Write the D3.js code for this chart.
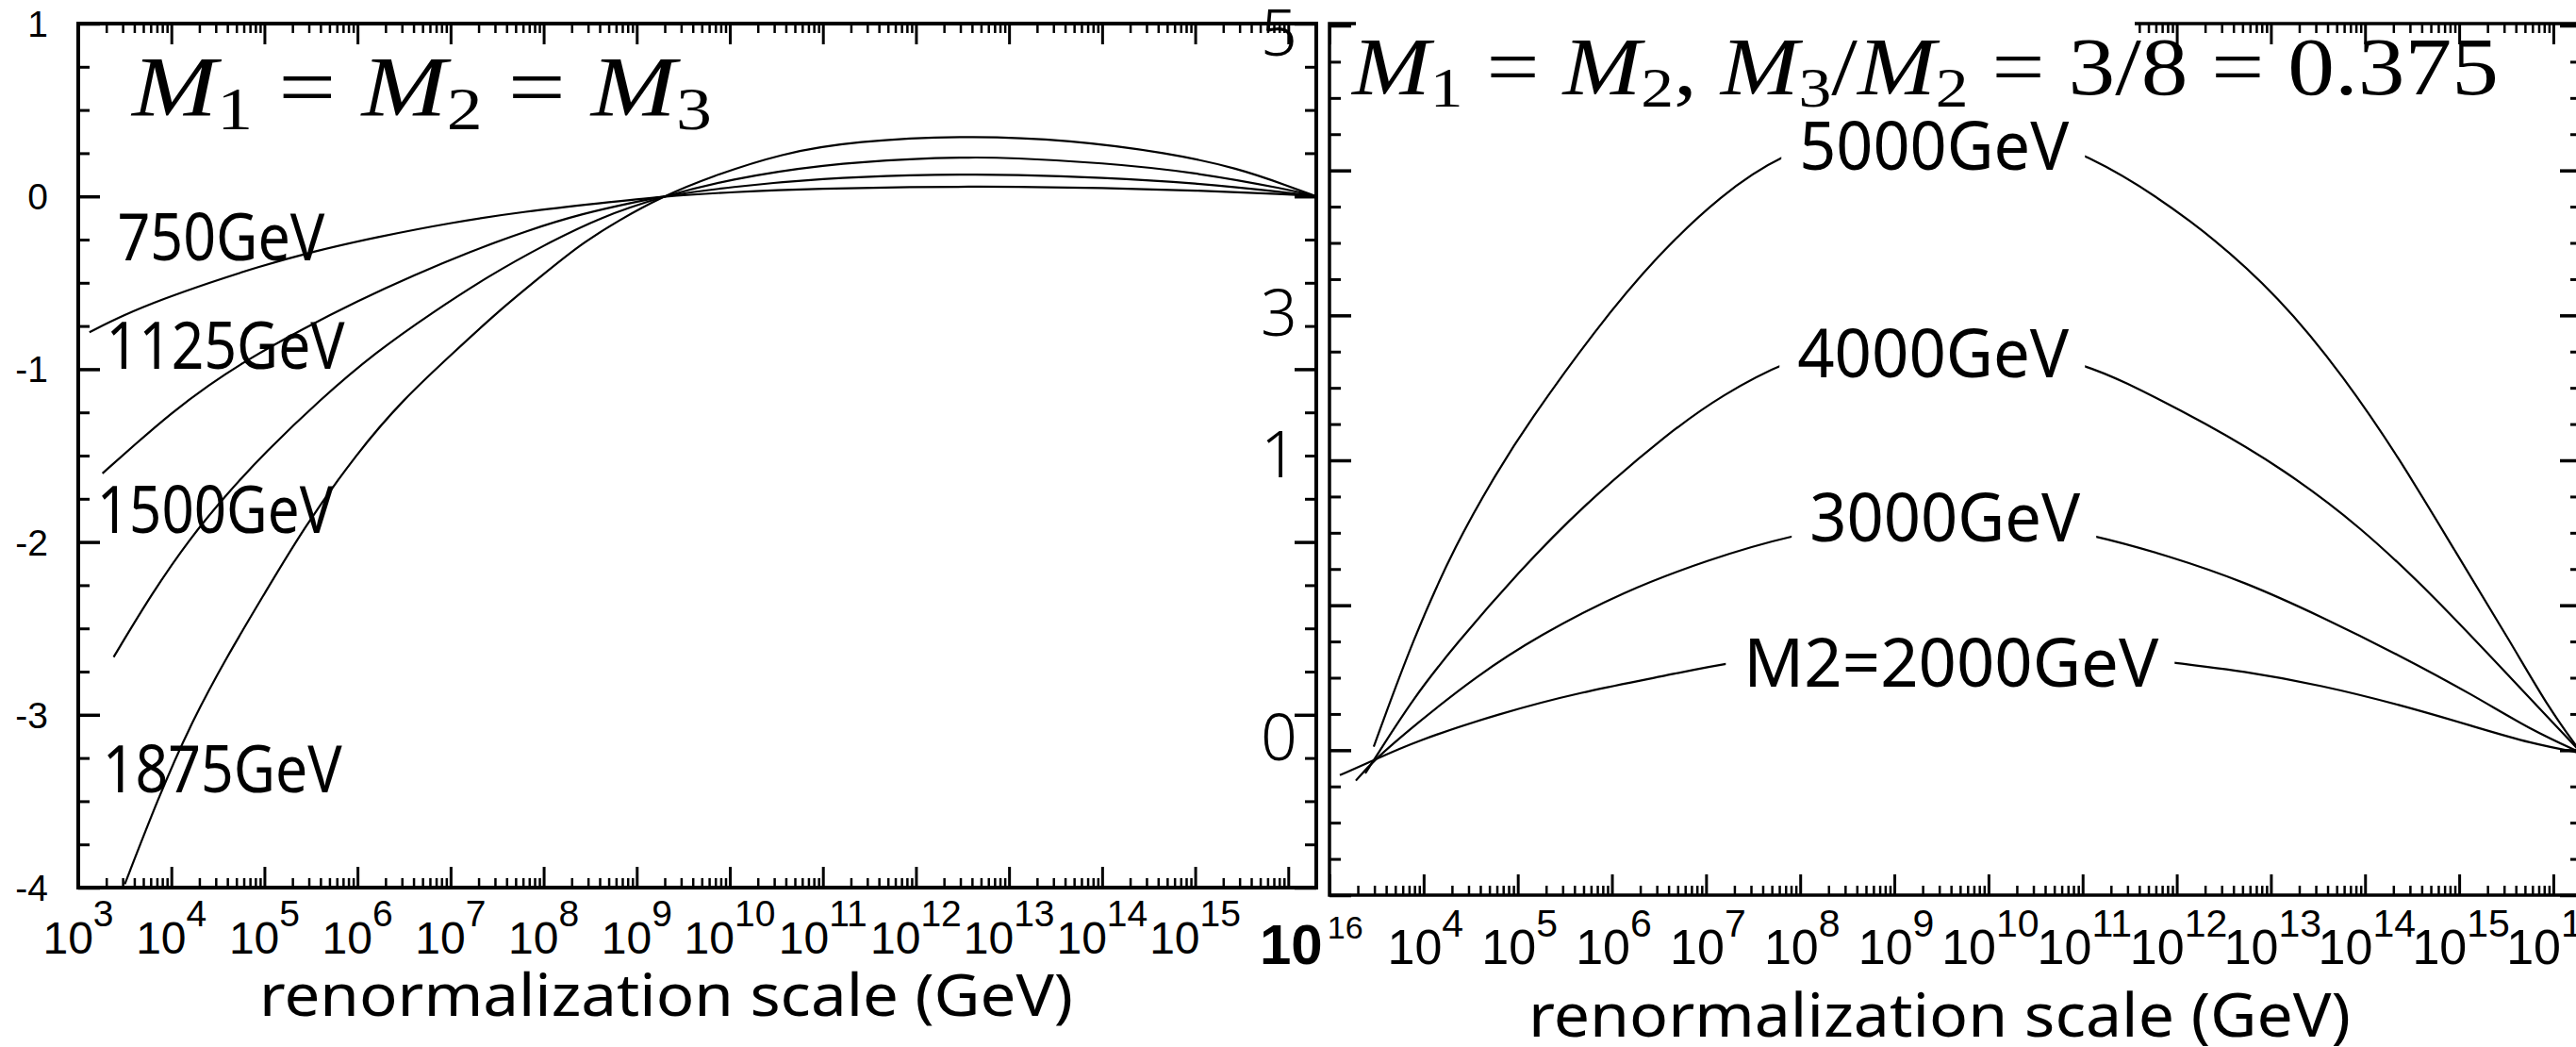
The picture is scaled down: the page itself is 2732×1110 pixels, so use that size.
<!DOCTYPE html>
<html>
<head>
<meta charset="utf-8">
<script src="https://cdn.jsdelivr.net/npm/d3@7"></script>
<style>
  html, body { margin: 0; padding: 0; background: #fff; }
  svg { display: block; }
  text { white-space: pre; }
</style>
</head>
<body>
<script>
// ---- data: [log10(Q / GeV), value] ----

// left panel, M1 = M2 = M3
var labelsL = ["750GeV", "1125GeV", "1500GeV", "1875GeV"];
var curve750 = [[3.12,-0.786],[3.48,-0.688],[3.92,-0.592],[4.40,-0.501],[4.92,-0.410],[5.52,-0.319],[6.20,-0.236],[7.01,-0.151],[7.81,-0.086],[8.61,-0.039],[9.28,0],[10,0.025],[11,0.046],[12,0.055],[12.6,0.056],[13,0.056],[14,0.049],[15,0.035],[16,0.012],[16.3,0]];
var curve1125 = [[3.26,-1.603],[3.60,-1.440],[4.00,-1.253],[4.40,-1.092],[4.80,-0.950],[5.40,-0.770],[6.00,-0.605],[6.61,-0.455],[7.21,-0.32],[7.81,-0.20],[8.41,-0.10],[9.01,-0.03],[9.28,0],[10,0.055],[11,0.105],[12,0.124],[12.6,0.127],[13,0.126],[14,0.11],[15,0.078],[16,0.022],[16.3,0]];
var curve1500 = [[3.38,-2.666],[3.80,-2.29],[4.20,-1.979],[4.60,-1.72],[5.00,-1.486],[5.60,-1.175],[6.20,-0.90],[6.81,-0.67],[7.41,-0.46],[8.01,-0.28],[8.61,-0.12],[9.28,0],[10,0.10],[11,0.185],[12,0.22],[12.6,0.226],[13,0.224],[14,0.195],[15,0.14],[16,0.04],[16.3,0]];
var curve1875 = [[3.50,-3.98],[3.86,-3.48],[4.2,-3.06],[4.6,-2.66],[5.0,-2.30],[5.42,-1.92],[6.0,-1.48],[6.5,-1.17],[7.0,-0.92],[7.5,-0.67],[8.0,-0.45],[8.39,-0.28],[8.8,-0.14],[9.28,0],[9.79,0.113],[10.56,0.25],[11.34,0.32],[12.58,0.353],[13.66,0.326],[14.7,0.253],[15.47,0.162],[16,0.06],[16.3,0]];

// right panel, M1 = M2, M3/M2 = 0.375
var labelsR = ["M2=2000GeV", "3000GeV", "4000GeV", "5000GeV"];
var curve2000 = [[3.11,-0.172],[3.47,-0.07],[3.89,0.056],[4.79,0.251],[5.68,0.403],[6.57,0.512],[7.24,0.61],[8.5,0.70],[9.5,0.73],[10.5,0.71],[11.86,0.614],[12.73,0.544],[13.54,0.447],[14.35,0.317],[15.15,0.165],[15.76,0.046],[16.3,-0.02]];
var curve3000 = [[3.28,-0.21],[3.47,-0.07],[3.89,0.165],[4.56,0.512],[5.23,0.794],[6.13,1.097],[7.02,1.314],[7.92,1.488],[8.8,1.58],[9.5,1.61],[10.3,1.58],[11.10,1.488],[11.92,1.34],[12.73,1.16],[13.54,0.92],[14.35,0.66],[15.15,0.38],[15.76,0.14],[16.3,-0.02]];
var curve4000 = [[3.38,-0.16],[3.47,-0.07],[3.89,0.36],[4.34,0.73],[5.01,1.23],[5.68,1.68],[6.62,2.20],[7.17,2.45],[7.86,2.69],[8.6,2.83],[9.4,2.87],[10.2,2.82],[11.08,2.64],[11.36,2.57],[12.33,2.25],[13.13,1.94],[13.94,1.55],[14.75,1.05],[15.56,0.49],[16.3,-0.02]];
var curve5000 = [[3.47,0.024],[3.89,0.772],[4.34,1.423],[4.79,1.93],[5.10,2.247],[5.82,2.90],[6.49,3.42],[7.16,3.83],[7.79,4.11],[8.6,4.28],[9.4,4.33],[10.2,4.28],[11.01,4.14],[12.18,3.66],[13.12,3.11],[13.78,2.57],[14.35,2.03],[14.95,1.38],[15.56,0.73],[15.96,0.28],[16.3,-0.02]];

// axes
var xDomain = [1e3, 2e16];
var yDomainL = [-4, 1];
var yDomainR = [-1, 5];
var xLabelExpL = [3, 4, 5, 6, 7, 8, 9, 10, 11, 12, 13, 14, 15];
var xLabelExpR = [4, 5, 6, 7, 8, 9, 10, 11, 12, 13, 14, 15, 16];
var yTicksL = [-4, -3, -2, -1, 0, 1];
var yTickTextR = ["5", "3", "1", "0"];
var yTickAtR = [4.95, 3.02, 2.04, 0.09];
var xTitle = "renormalization scale (GeV)";

// ---- drawing ----
var width = 2732, height = 1110;
var sansFont = "'Noto Sans', 'Open Sans', sans-serif";
var helvFont = "'Liberation Sans', Arial, sans-serif";
var serifFont = "'Liberation Serif', 'DejaVu Serif', serif";

var svg = d3.select("body").append("svg")
    .attr("width", width)
    .attr("height", height)
    .style("background", "#fff");

var boxL = {left: 83, right: 1396, top: 25, bottom: 941};
var boxR = {left: 1410, right: 2738, top: 25, bottom: 949};

var xL = d3.scaleLog().domain(xDomain).range([boxL.left, boxL.right]);
var yL = d3.scaleLinear().domain(yDomainL).range([boxL.bottom, boxL.top]);
var xR = d3.scaleLog().domain(xDomain).range([boxR.left, boxR.right]);
var yR = d3.scaleLinear().domain(yDomainR).range([boxR.bottom, 27]);

//decade and 2..9 minor ticks
var decades = d3.range(3, 17).map(function(e) {return Math.pow(10, e);});
var minorX = [];
d3.range(3, 16).forEach(function(e) {
    d3.range(2, 10).forEach(function(m) {minorX.push(m * Math.pow(10, e));});
});

function tickRow(g, axis, tr, len, w) {
    g.append("g")
        .attr("transform", tr)
        .call(axis.tickSize(-len).tickFormat(""))
        .call(function(s) {s.select(".domain").remove();})
        .selectAll("line")
        .attr("stroke", "#000")
        .attr("stroke-width", w);
}

function drawFrame(box, x, y, yDom, fw) {
    var g = svg.append("g");
    var yMajor = d3.range(yDom[0], yDom[1] + 0.01, 1);
    var yMinor = d3.range(yDom[0], yDom[1] + 0.01, 0.25).filter(function(v) {return v % 1 !== 0;});
    tickRow(g, d3.axisBottom(x).tickValues(decades), "translate(0," + box.bottom + ")", 22, 3);
    tickRow(g, d3.axisBottom(x).tickValues(minorX), "translate(0," + box.bottom + ")", 10, 2.5);
    tickRow(g, d3.axisTop(x).tickValues(decades), "translate(0," + box.top + ")", 22, 3);
    tickRow(g, d3.axisTop(x).tickValues(minorX), "translate(0," + box.top + ")", 10, 2.5);
    tickRow(g, d3.axisLeft(y).tickValues(yMajor), "translate(" + box.left + ",0)", 23, 3.5);
    tickRow(g, d3.axisLeft(y).tickValues(yMinor), "translate(" + box.left + ",0)", 12, 3);
    tickRow(g, d3.axisRight(y).tickValues(yMajor), "translate(" + box.right + ",0)", 23, 3.5);
    tickRow(g, d3.axisRight(y).tickValues(yMinor), "translate(" + box.right + ",0)", 12, 3);
    g.append("rect")
        .attr("x", box.left).attr("y", box.top)
        .attr("width", box.right - box.left).attr("height", box.bottom - box.top)
        .attr("fill", "none").attr("stroke", "#000").attr("stroke-width", fw);
    return g;
}

function drawCurves(series, x, y) {
    var line = d3.line()
        .x(function(d) {return x(Math.pow(10, d[0]));})
        .y(function(d) {return y(d[1]);})
        .curve(d3.curveBasis);
    svg.append("g").selectAll("path")
        .data(series)
        .enter()
        .append("path")
        .attr("d", line)
        .attr("fill", "none")
        .attr("stroke", "#000")
        .attr("stroke-width", 2.2);
}

function powLabel(g, x, y, size, supSize, rise, e, anchor) {
    var t = g.append("text")
        .attr("x", x).attr("y", y)
        .attr("text-anchor", anchor || "middle")
        .attr("font-family", helvFont)
        .attr("font-size", size)
        .text("10");
    t.append("tspan").attr("font-size", supSize).attr("dy", -rise).text(e);
    return t;
}

function mathText(parts, x, y, size, len) {
    var t = svg.append("text")
        .attr("x", x).attr("y", y)
        .attr("font-family", serifFont)
        .attr("font-size", size)
        .attr("textLength", len)
        .attr("lengthAdjust", "spacingAndGlyphs");
    var shift = 0;
    parts.forEach(function(p) {
        var down = p.sub ? size * 0.15 : 0;
        t.append("tspan")
            .attr("dy", down - shift)
            .attr("font-style", p.it ? "italic" : "normal")
            .attr("font-size", p.sub ? size * 0.7 : size)
            .text(p.t);
        shift = down;
    });
}

// ---- left panel ----
drawFrame(boxL, xL, yL, yDomainL, 4);
drawCurves([curve750, curve1125, curve1500, curve1875], xL, yL);

var axL = svg.append("g");
xLabelExpL.forEach(function(e) {
    powLabel(axL, xL(Math.pow(10, e)), 1011, 48, 39, 29, e);
});
// bold 10^16 at the end of the left axis
var big = axL.append("text")
    .attr("x", 1336).attr("y", 1022)
    .attr("font-family", helvFont)
    .attr("font-size", 60)
    .attr("font-weight", "bold")
    .text("10");
big.append("tspan").attr("font-size", 34).attr("font-weight", "normal").attr("dx", 5).attr("dy", -27).text("16");

axL.selectAll(".ylab")
    .data(yTicksL)
    .enter()
    .append("text")
    .attr("x", 51)
    .attr("y", function(d) {return yL(d);})
    .attr("dy", "0.36em")
    .attr("text-anchor", "end")
    .attr("font-family", helvFont)
    .attr("font-size", 39)
    .text(function(d) {return d;});

axL.append("text")
    .attr("x", 275).attr("y", 1077)
    .attr("font-family", sansFont)
    .attr("font-size", 62)
    .attr("textLength", 863)
    .attr("lengthAdjust", "spacingAndGlyphs")
    .text(xTitle);

// curve names, placed in data space
var spotL = [[3.42, -0.37, 220], [3.30, -1.0, 253], [3.20, -1.95, 251], [3.26, -3.45, 254]];
svg.append("g").selectAll("text")
    .data(labelsL)
    .enter()
    .append("text")
    .attr("x", function(d, i) {return xL(Math.pow(10, spotL[i][0]));})
    .attr("y", function(d, i) {return yL(spotL[i][1]);})
    .attr("font-family", sansFont)
    .attr("font-size", 70)
    .attr("textLength", function(d, i) {return spotL[i][2];})
    .attr("lengthAdjust", "spacingAndGlyphs")
    .text(function(d) {return d;});

mathText([
    {t: "M", it: true}, {t: "1", sub: true}, {t: " = "},
    {t: "M", it: true}, {t: "2", sub: true}, {t: " = "},
    {t: "M", it: true}, {t: "3", sub: true}
], 140, 123, 90, 615);

// ---- right panel ----
drawFrame(boxR, xR, yR, yDomainR, 3.5);
drawCurves([curve2000, curve3000, curve4000, curve5000], xR, yR);

var axR = svg.append("g");
xLabelExpR.forEach(function(e) {
    powLabel(axR, xR(Math.pow(10, e)) + 2, 1022, 52, 41, 29, e);
});

axR.selectAll(".ylab")
    .data(yTickTextR)
    .enter()
    .append("text")
    .attr("x", 1337)
    .attr("y", function(d, i) {return yR(yTickAtR[i]);})
    .attr("dy", "0.36em")
    .attr("font-family", sansFont)
    .attr("font-weight", 300)
    .attr("font-size", 68)
    .text(function(d) {return d;});

axR.append("text")
    .attr("x", 1621).attr("y", 1099)
    .attr("font-family", sansFont)
    .attr("font-size", 63)
    .attr("textLength", 872)
    .attr("lengthAdjust", "spacingAndGlyphs")
    .text(xTitle);

// labels sit on white boxes that cut the curves
var spotR = [[7.40, 0.44, 440], [8.10, 1.44, 287], [7.97, 2.573, 288], [7.99, 4.004, 286]];
var labR = svg.append("g").selectAll("g")
    .data(labelsR)
    .enter()
    .append("g")
    .attr("transform", function(d, i) {
        return "translate(" + xR(Math.pow(10, spotR[i][0])) + "," + yR(spotR[i][1]) + ")";
    });
labR.append("rect")
    .attr("x", -19).attr("y", -76)
    .attr("width", function(d, i) {return spotR[i][2] + 36;})
    .attr("height", 90)
    .attr("fill", "#fff");
labR.append("text")
    .attr("font-family", sansFont)
    .attr("font-size", 72)
    .attr("textLength", function(d, i) {return spotR[i][2];})
    .attr("lengthAdjust", "spacingAndGlyphs")
    .text(function(d) {return d;});

// title box hides part of the top frame
svg.append("rect")
    .attr("x", 1438).attr("y", 8)
    .attr("width", 826).attr("height", 112)
    .attr("fill", "#fff");
mathText([
    {t: "M", it: true}, {t: "1", sub: true}, {t: " = "},
    {t: "M", it: true}, {t: "2", sub: true}, {t: ", "},
    {t: "M", it: true}, {t: "3", sub: true}, {t: "/"},
    {t: "M", it: true}, {t: "2", sub: true}, {t: " = 3/8 = 0.375"}
], 1434, 100, 86, 1216);
</script>
</body>
</html>
